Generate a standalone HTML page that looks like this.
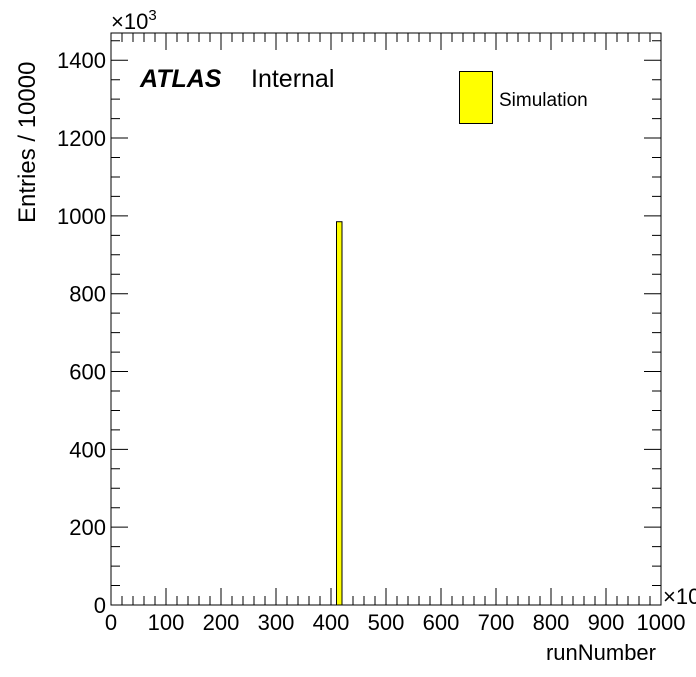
<!DOCTYPE html>
<html><head><meta charset="utf-8"><style>
body{margin:0;background:#fff}
svg text{font-family:"Liberation Sans",Arial,sans-serif;fill:#000}
</style></head><body>
<svg width="696" height="672" xmlns="http://www.w3.org/2000/svg">
<g id="axes"></g>
<g id="bars"></g>
<text x="111" y="29" font-size="22">×10<tspan dy="-9" font-size="15">3</tspan></text>
<text x="663" y="604" font-size="22">×10</text>
<text x="140" y="87" font-size="25" font-weight="bold" font-style="italic">ATLAS</text>
<text x="251" y="87" font-size="25">Internal</text>
<rect x="459.5" y="71.5" width="33" height="52" fill="#ffff00" stroke="#000"/>
<text x="499" y="106" font-size="19">Simulation</text>
<text x="656" y="660" font-size="22" text-anchor="end">runNumber</text>
<text transform="translate(35,223) rotate(-90)" font-size="24">Entries / 10000</text>
</svg>
<script>
const binStarts=[410];
const binCounts=[985];
const binWidth=10;
const xTicks=[0,100,200,300,400,500,600,700,800,900,1000];
const yTicks=[0,200,400,600,800,1000,1200,1400];
const L=111,R=661,T=33,B=605,XMAX=1000,YMAX=1470;
const X=v=>L+(v/XMAX)*(R-L);
const Y=v=>B-(v/YMAX)*(B-T);
const NS="http://www.w3.org/2000/svg";
const ax=document.getElementById('axes'),bg=document.getElementById('bars');
function mk(tag,attrs,parent){const e=document.createElementNS(NS,tag);for(const k in attrs)e.setAttribute(k,attrs[k]);parent.appendChild(e);return e;}
binStarts.forEach((s,i)=>{
 const r=mk('rect',{x:X(s),y:Y(binCounts[i]),width:X(s+binWidth)-X(s),height:B-Y(binCounts[i]),fill:'#ffff00',stroke:'#000','stroke-width':1},bg);
 
 
});
const f=mk('rect',{x:L,y:T,width:R-L,height:B-T,fill:'none',stroke:'#000','stroke-width':1},ax);


let d='';
for(let v=0;v<=XMAX;v+=20){const x=X(v),len=(v%100===0)?17:9;d+=`M${x},${B}v${-len}M${x},${T}v${len}`;}
for(let v=0;v<=YMAX;v+=50){const y=Y(v),len=(v%200===0)?17:9;d+=`M${L},${y}h${len}M${R},${y}h${-len}`;}
const tk=mk('path',{d:d,stroke:'#000','stroke-width':1,fill:'none'},ax);


xTicks.forEach(v=>{const t=mk('text',{x:X(v),y:630,'font-size':22,'text-anchor':'middle'},ax);t.textContent=v;
 
 });
yTicks.forEach(v=>{const t=mk('text',{x:106,y:Y(v)+8,'font-size':22,'text-anchor':'end'},ax);t.textContent=v;
 
 });
</script>
</body></html>
